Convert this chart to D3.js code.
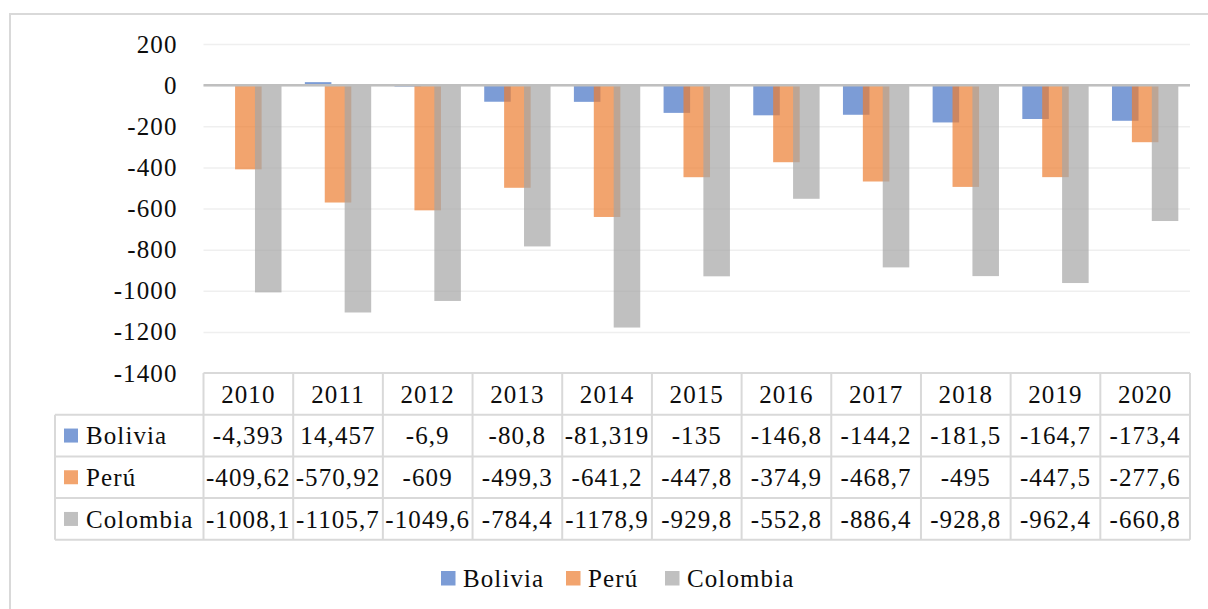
<!DOCTYPE html>
<html>
<head>
<meta charset="utf-8">
<script src="https://cdn.jsdelivr.net/npm/d3@7"></script>
<style>
  body { margin: 0; background: #fff; }
  svg { display: block; }
  text { font-family: "Liberation Serif", "Times New Roman", serif; font-size: 25px; fill: #0d0d0d; letter-spacing: 1.1px; }
</style>
</head>
<body>
<svg></svg>
<script>
let years = ['2010', '2011', '2012', '2013', '2014', '2015', '2016', '2017', '2018', '2019', '2020'];
let seriesNames = ['Bolivia', 'Perú', 'Colombia'];
let bolivia = [-4.393, 14.457, -6.9, -80.8, -81.319, -135, -146.8, -144.2, -181.5, -164.7, -173.4];
let peru = [-409.62, -570.92, -609, -499.3, -641.2, -447.8, -374.9, -468.7, -495, -447.5, -277.6];
let colombia = [-1008.1, -1105.7, -1049.6, -784.4, -1178.9, -929.8, -552.8, -886.4, -928.8, -962.4, -660.8];
let yTicks = [200, 0, -200, -400, -600, -800, -1000, -1200, -1400];
let colors = ['#4472C4', '#ED7D31', '#A5A5A5'];

let width = 1208;
let height = 609;
let plotLeft = 203.5;
let plotRight = 1190;
let plotTop = 44;
let plotBottom = 373;
let rowH = 41.7;
let headLeft = 55;

let series = [bolivia, peru, colombia];

let svg = d3.select('svg')
    .attr('width', width)
    .attr('height', height);

// outer chart border (runs off the right and bottom edge)
svg.append('rect')
    .attr('x', 10)
    .attr('y', 14)
    .attr('width', width + 20)
    .attr('height', height + 20)
    .attr('fill', 'none')
    .attr('stroke', '#D9D9D9')
    .attr('stroke-width', 2);

let xScale = d3.scaleBand()
    .domain(years)
    .range([plotLeft, plotRight]);

let yScale = d3.scaleLinear()
    .domain([-1400, 200])
    .range([plotBottom, plotTop]);

let barW = xScale.bandwidth() / 3.38;
let step = barW * 0.75;

// gridlines
let yAxis = d3.axisLeft(yScale)
    .tickValues(yTicks)
    .tickSize(-(plotRight - plotLeft))
    .tickPadding(26)
    .tickFormat(d => d);

let gy = svg.append('g')
    .attr('transform', `translate(${plotLeft}, 0)`)
    .call(yAxis)
    .attr('font-family', null)
    .attr('font-size', null);
gy.select('.domain').remove();
gy.selectAll('.tick line')
    .attr('stroke', '#EFEFEF')
    .attr('stroke-width', 1.5);
gy.selectAll('.tick text')
    .attr('fill', null);
gy.selectAll('.tick')
    .filter(d => d === -1400)
    .select('line')
    .remove();

// bars
series.forEach((vals, i) => {
    svg.append('g')
        .selectAll('rect')
        .data(vals)
        .enter()
        .append('rect')
            .attr('x', (d, j) => xScale(years[j]) + (xScale.bandwidth() - (barW + 2 * step)) / 2 + i * step)
            .attr('y', d => yScale(Math.max(0, d)))
            .attr('width', barW)
            .attr('height', d => Math.abs(yScale(d) - yScale(0)))
            .attr('fill', colors[i])
            .attr('fill-opacity', 0.7);
});

// zero line
svg.append('line')
    .attr('x1', plotLeft)
    .attr('x2', plotRight)
    .attr('y1', yScale(0))
    .attr('y2', yScale(0))
    .attr('stroke', '#BFBFBF')
    .attr('stroke-width', 2.5);

// data table
let tableBorder = '#D9D9D9';
let table = svg.append('g');

// horizontal lines
table.append('line')
    .attr('x1', plotLeft).attr('x2', plotRight)
    .attr('y1', plotBottom).attr('y2', plotBottom)
    .attr('stroke', tableBorder).attr('stroke-width', 2);
for (let r = 1; r <= 4; r++) {
    table.append('line')
        .attr('x1', headLeft).attr('x2', plotRight)
        .attr('y1', plotBottom + r * rowH).attr('y2', plotBottom + r * rowH)
        .attr('stroke', tableBorder).attr('stroke-width', 2);
}
// vertical lines
table.append('line')
    .attr('x1', headLeft).attr('x2', headLeft)
    .attr('y1', plotBottom + rowH).attr('y2', plotBottom + 4 * rowH)
    .attr('stroke', tableBorder).attr('stroke-width', 2);
years.concat(['end']).forEach((y, j) => {
    let x = plotLeft + j * xScale.bandwidth();
    table.append('line')
        .attr('x1', x).attr('x2', x)
        .attr('y1', plotBottom).attr('y2', plotBottom + 4 * rowH)
        .attr('stroke', tableBorder).attr('stroke-width', 2);
});

// year header
table.selectAll('.year')
    .data(years)
    .enter()
    .append('text')
        .attr('x', d => xScale(d) + xScale.bandwidth() / 2)
        .attr('y', plotBottom + rowH / 2)
        .attr('dy', '0.35em')
        .style('text-anchor', 'middle')
        .text(d => d);

// rows
series.forEach((vals, i) => {
    let rowY = plotBottom + (i + 1) * rowH;
    table.append('rect')
        .attr('x', 64)
        .attr('y', rowY + rowH / 2 - 7)
        .attr('width', 14)
        .attr('height', 14)
        .attr('fill', colors[i])
        .attr('fill-opacity', 0.7);
    table.append('text')
        .attr('x', 86)
        .attr('y', rowY + rowH / 2)
        .attr('dy', '0.35em')
        .text(seriesNames[i]);
    table.selectAll('.v' + i)
        .data(vals)
        .enter()
        .append('text')
            .attr('x', (d, j) => xScale(years[j]) + xScale.bandwidth() / 2)
            .attr('y', rowY + rowH / 2)
            .attr('dy', '0.35em')
            .style('text-anchor', 'middle')
            .text(d => String(d).replace('.', ','));
});

// legend
let legendX = [441, 566, 665];
let legend = svg.append('g');
seriesNames.forEach((name, i) => {
    legend.append('rect')
        .attr('x', legendX[i])
        .attr('y', 571)
        .attr('width', 14.5)
        .attr('height', 14.5)
        .attr('fill', colors[i])
        .attr('fill-opacity', 0.7);
    legend.append('text')
        .attr('x', legendX[i] + 22)
        .attr('y', 578.5)
        .attr('dy', '0.35em')
        .text(name);
});
</script>
</body>
</html>
